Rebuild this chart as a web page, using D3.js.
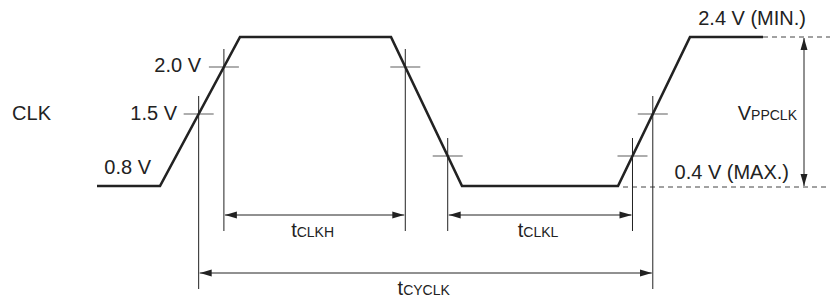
<!DOCTYPE html>
<html>
<head>
<meta charset="utf-8">
<script src="https://cdn.jsdelivr.net/npm/d3@7"></script>
<style>
  body { margin: 0; background: #fff; }
  text { font-family: "Liberation Sans", Arial, sans-serif; fill: #222; }
</style>
</head>
<body>
<svg id="chart" width="830" height="302"></svg>
<script>
// waveform corners: time (arbitrary units) and voltage
var waveTimes  = [0, 63, 143, 294, 365, 521, 593, 666],
    waveVolts  = [0.4, 0.4, 2.4, 2.4, 0.4, 0.4, 2.4, 2.4];

// measurement crosses: edge index (segment start) and voltage level
var crossEdges = [1, 1, 3, 3, 5, 5],
    crossVolts = [1.5, 2.0, 2.0, 0.8, 0.8, 1.5];

// level labels on the left
var levelNames = ['2.0 V', '1.5 V', '0.8 V'],
    levelVolts = [2.0, 1.5, 0.8];

var svg = d3.select('#chart');

var x = d3.scaleLinear().domain([0, 733]).range([97, 830]);
// schematic voltage axis (not to scale)
var y = d3.scaleLinear()
	.domain([0.4, 0.8, 1.5, 2.0, 2.4])
	.range([186, 156, 114, 67, 37]);

var ink = '#222',
    fontSize = 20,
    subSize = 14;

// arrow heads
var defs = svg.append('defs');
function marker(id, path){
	defs.append('marker')
		.attr('id', id)
		.attr('viewBox', '0 0 12 10')
		.attr('refX', id === 'arrEnd' ? 12 : 0)
		.attr('refY', 5)
		.attr('markerWidth', 12)
		.attr('markerHeight', 10)
		.attr('markerUnits', 'userSpaceOnUse')
		.attr('orient', 'auto')
		.append('path')
		.attr('d', path)
		.attr('fill', ink);
}
marker('arrEnd', 'M0,1.5 L12,5 L0,8.5 Z');
marker('arrStart', 'M12,1.5 L0,5 L12,8.5 Z');

// dashed reference levels
var lastT = waveTimes[waveTimes.length - 1];
svg.append('line')
	.attr('x1', x(lastT)).attr('x2', x(733))
	.attr('y1', y(2.4)).attr('y2', y(2.4))
	.attr('stroke', '#444').attr('stroke-width', 1).attr('stroke-dasharray', '5,4');
svg.append('line')
	.attr('x1', x(waveTimes[5]) + 5).attr('x2', x(733))
	.attr('y1', y(0.4) + 1).attr('y2', y(0.4) + 1)
	.attr('stroke', '#444').attr('stroke-width', 1).attr('stroke-dasharray', '5,4');

// crossing positions along edges
var crosses = crossEdges.map(function(e, i){
	var v = crossVolts[i],
	    t0 = waveTimes[e], t1 = waveTimes[e + 1],
	    v0 = waveVolts[e], v1 = waveVolts[e + 1];
	var py = y(v),
	    f = (py - y(v0)) / (y(v1) - y(v0));
	return { x: x(t0) + f * (x(t1) - x(t0)), y: py };
});

// extension lines: which reach down to the cycle arrow
var longExt = [true, false, false, false, false, true];
crosses.forEach(function(c, i){
	svg.append('line')
		.attr('x1', c.x).attr('x2', c.x)
		.attr('y1', c.y - 18).attr('y2', longExt[i] ? 289 : 231)
		.attr('stroke', ink).attr('stroke-width', 1);
	svg.append('line')
		.attr('x1', c.x - 15).attr('x2', c.x + 15)
		.attr('y1', c.y).attr('y2', c.y)
		.attr('stroke', '#777').attr('stroke-width', 1.2);
});

// the waveform
var line = d3.line()
	.x(function(d){ return x(d[0]); })
	.y(function(d){ return y(d[1]); });
svg.append('path')
	.datum(waveTimes.map(function(t, i){ return [t, waveVolts[i]]; }))
	.attr('d', line)
	.attr('fill', 'none')
	.attr('stroke', ink)
	.attr('stroke-width', 2.6)
	.attr('stroke-linejoin', 'miter');

// timing arrows
function dimArrow(x1, x2, yy, main, sub, baseline){
	svg.append('line')
		.attr('x1', x1 + 1).attr('x2', x2 - 1)
		.attr('y1', yy).attr('y2', yy)
		.attr('stroke', ink).attr('stroke-width', 1)
		.attr('marker-start', 'url(#arrStart)')
		.attr('marker-end', 'url(#arrEnd)');
	var t = svg.append('text')
		.attr('x', (x1 + x2) / 2 - 2).attr('y', baseline)
		.attr('text-anchor', 'middle');
	t.append('tspan').attr('font-size', fontSize).text(main);
	t.append('tspan').attr('font-size', subSize).text(sub);
}
dimArrow(crosses[1].x, crosses[2].x, 215, 't', 'CLKH', 237);
dimArrow(crosses[3].x, crosses[4].x, 215, 't', 'CLKL', 237);
dimArrow(crosses[0].x, crosses[5].x, 273, 't', 'CYCLK', 295);

// VPPCLK arrow
var vx = 804;
svg.append('line')
	.attr('x1', vx).attr('x2', vx)
	.attr('y1', y(2.4) + 1).attr('y2', y(0.4))
	.attr('stroke', ink).attr('stroke-width', 1)
	.attr('marker-start', 'url(#arrStart)')
	.attr('marker-end', 'url(#arrEnd)');
var vt = svg.append('text').attr('x', 797).attr('y', 120).attr('text-anchor', 'end');
vt.append('tspan').attr('font-size', fontSize).text('V');
vt.append('tspan').attr('font-size', subSize).text('PPCLK');

// level labels
var labelRight = [201, 177, 151],
    labelDy    = [5, 6, 18];
levelNames.forEach(function(n, i){
	svg.append('text')
		.attr('x', labelRight[i])
		.attr('y', y(levelVolts[i]) + labelDy[i])
		.attr('text-anchor', 'end')
		.attr('font-size', fontSize)
		.text(n);
});

svg.append('text').attr('x', 806).attr('y', 25).attr('text-anchor', 'end')
	.attr('font-size', fontSize).text('2.4 V (MIN.)');
svg.append('text').attr('x', 789).attr('y', 179).attr('text-anchor', 'end')
	.attr('font-size', fontSize).text('0.4 V (MAX.)');
svg.append('text').attr('x', 51).attr('y', 120).attr('text-anchor', 'end')
	.attr('font-size', fontSize).text('CLK');
</script>
</body>
</html>
